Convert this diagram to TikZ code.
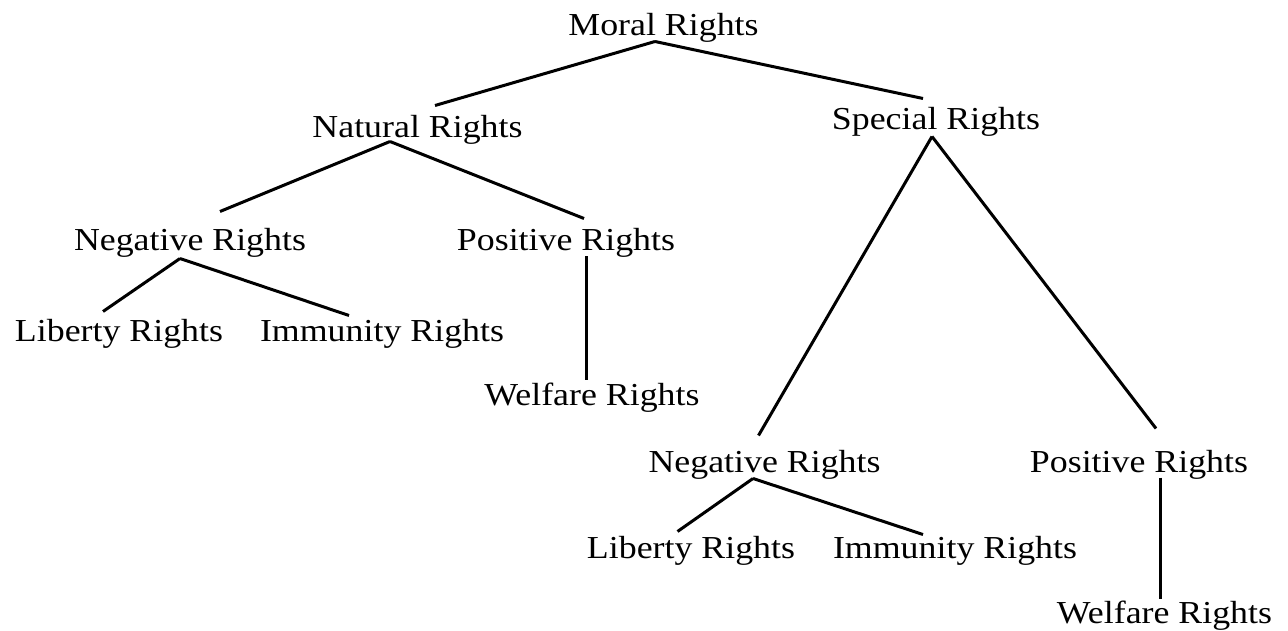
\documentclass[tikz,border=0pt]{standalone}
\usepackage{fontspec}
\setmainfont{Liberation Serif}[FakeStretch=1.12]
\begin{document}
\begin{tikzpicture}
  [x=1pt,y=-1pt,line width=3pt,every node/.style={anchor=base,inner sep=2pt,text height=22pt,text depth=2pt,font=\fontsize{32}{36}\selectfont}]
  \useasboundingbox[fill=white] (0,0) rectangle (1288,631);
  \node (moral) at (663.5,36) {Moral Rights};
  \node (natural) at (417.5,138) {Natural Rights};
  \node (special) at (936,130) {Special Rights};
  \node (negl) at (190,251) {Negative Rights};
  \node (posl) at (566,251) {Positive Rights};
  \node (libl) at (119,341) {Liberty Rights};
  \node (imml) at (382,341) {Immunity Rights};
  \node (welfl) at (592,405) {Welfare Rights};
  \node (negr) at (764.5,472) {Negative Rights};
  \node (posr) at (1139,472) {Positive Rights};
  \node (libr) at (691,558) {Liberty Rights};
  \node (immr) at (955,558) {Immunity Rights};
  \node (welfr) at (1164.5,623) {Welfare Rights};

  \foreach \from/\fx/\fy/\to/\tx/\ty in {moral/-8.5/0/natural/17.5/-7,moral/-8.5/0/special/-13/-6,
      natural/-27.5/-2/negl/30/-14,natural/-27.5/-2/posl/18/-7,special/-4/1/negr/-6/-11,special/-4/1/posr/17/-18,
      negl/-10/2/libl/-16/-4,negl/-10/2/imml/-33/0,posl/20/0/welfl/-6/0,
      negr/-11.5/1/libr/-13.5/-1,negr/-11.5/1/immr/-32/2,posr/21/0/welfr/-4.5/1}
    \draw ([shift={(\fx,\fy)}]\from.south) -- ([shift={(\tx,\ty)}]\to.north);

\end{tikzpicture}
\end{document}
